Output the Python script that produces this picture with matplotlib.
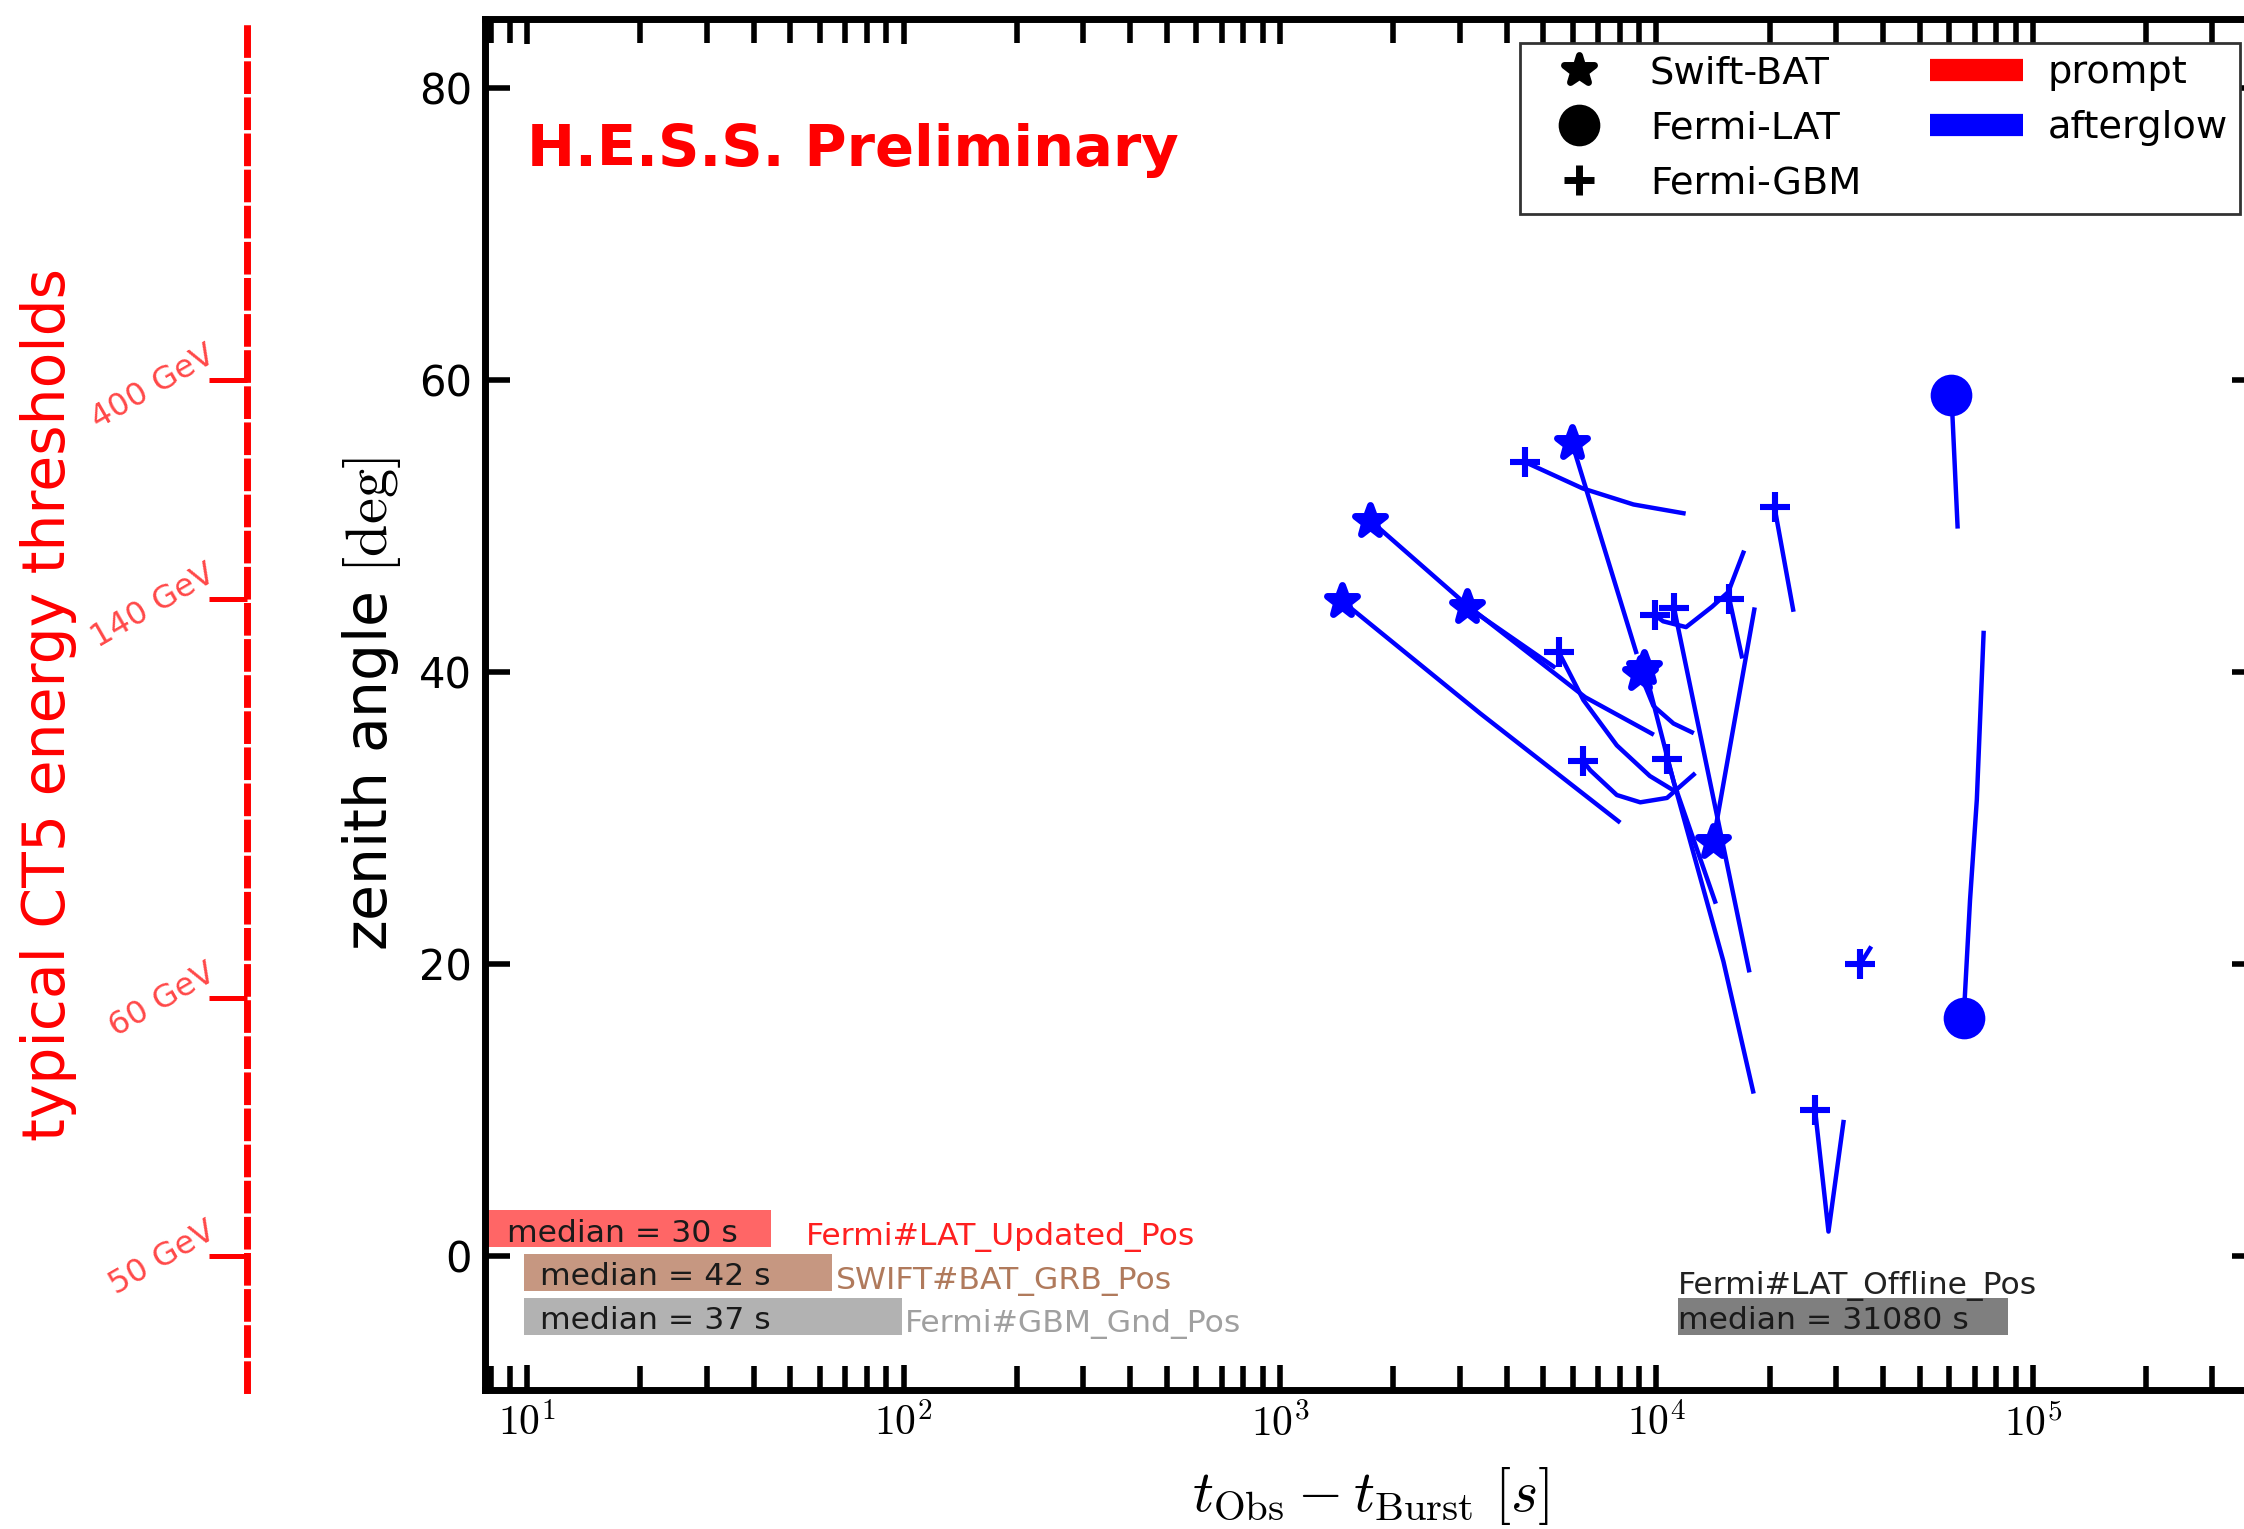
import numpy as np
import matplotlib
matplotlib.use('Agg')
import matplotlib.pyplot as plt
from matplotlib.lines import Line2D
from matplotlib.markers import MarkerStyle
from matplotlib.ticker import FuncFormatter, LogLocator, NullFormatter

plt.rcParams['mathtext.fontset'] = 'cm'
plt.rcParams['font.family'] = 'DejaVu Sans'

# afterglow tracks, t_obs - t_burst [s] and zenith angle [deg]; marker at first point
bat_t = [[1460, 3400, 7930],
         [1738, 3140, 6470, 9730],
         [3140, 5330],
         [5970, 8830],
         [9060, 9820, 11100, 12420],
         [9290, 11140, 14320],
         [14150, 18200]]
bat_zen = [[44.9, 37.2, 29.8],
           [50.4, 44.6, 38.3, 35.8],
           [44.5, 40.4],
           [55.7, 41.4],
           [39.9, 37.7, 36.5, 35.9],
           [40.3, 32.4, 24.3],
           [28.4, 44.3]]

gbm_t = [[5500, 6400, 7850, 9610, 11300],
         [6400, 6670, 7850, 9060, 10670, 12560],
         [4480, 6370, 8690, 11800],
         [9930, 10420, 11990, 14060, 15520, 17020],
         [11140, 17620],
         [15630, 16860],
         [10690, 15070, 18070],
         [20600, 23080],
         [26400, 28650, 31400],
         [34760, 36950]]
gbm_zen = [[41.4, 38.1, 35.0, 32.9, 31.8],
           [33.9, 33.3, 31.6, 31.1, 31.4, 33.0],
           [54.4, 52.6, 51.5, 50.9],
           [43.9, 43.5, 43.1, 44.5, 45.5, 48.2],
           [44.4, 19.6],
           [45.0, 41.1],
           [34.1, 20.2, 11.3],
           [51.3, 44.3],
           [10.0, 1.7, 9.2],
           [20.0, 21.1]]

lat_t = [[60800, 63100],
         [65500, 68100, 71000, 74000]]
lat_zen = [[59.0, 50.0],
           [16.3, 24.4, 31.3, 42.7]]

# alert delay ranges [s] and medians
delay_names = ['Fermi#LAT_Updated_Pos', 'SWIFT#BAT_GRB_Pos', 'Fermi#GBM_Gnd_Pos', 'Fermi#LAT_Offline_Pos']
delay_lo = [7.0, 9.8, 9.8, 11430]
delay_hi = [44.5, 64.6, 99.0, 86000]
delay_median = [30, 42, 37, 31080]
delay_row = [1.9, -1.1, -4.1, -4.1]
delay_color = ['red', 'sienna', 'gray', '#7f7f7f']
delay_alpha = [0.6, 0.6, 0.6, 1.0]
name_x = [55, 66, 101, 11430]
name_y = [1.3, -1.7, -4.6, -2.0]
name_color = ['#ff2020', '#b07a5c', '#a0a0a0', '#222222']
median_x = [8.85, 10.8, 10.8, 11430]

# CT5 thresholds vs zenith angle
thr_zen = [0, 17.7, 45, 60]
thr_label = ['50 GeV', '60 GeV', '140 GeV', '400 GeV']

star = MarkerStyle('*', joinstyle='round')

fig = plt.figure(figsize=(11.22, 7.645), dpi=200)
ax = fig.add_axes([485/2244, 139/1529, 1772/2244, 1371/1529])
ax2 = ax.twinx()

for tt, zz in zip(bat_t, bat_zen):
    ax.plot(tt, zz, color='blue', lw=1.6, zorder=3)
    ax.plot(tt[0], zz[0], marker=star, color='blue', ms=11.5, mew=2.5, zorder=4)
for tt, zz in zip(gbm_t, gbm_zen):
    ax.plot(tt, zz, color='blue', lw=1.6, zorder=3)
    ax.plot(tt[0], zz[0], marker='+', color='blue', ms=11, mew=2.2, zorder=4)
for tt, zz in zip(lat_t, lat_zen):
    ax.plot(tt, zz, color='blue', lw=1.6, zorder=3)
    ax.plot(tt[0], zz[0], marker='o', color='blue', ms=14, zorder=4)

for i in range(len(delay_names)):
    ax.barh(delay_row[i], delay_hi[i] - delay_lo[i], left=delay_lo[i], height=2.5,
            color=delay_color[i], alpha=delay_alpha[i], lw=0, zorder=2)
    ax.text(median_x[i], delay_row[i] - 0.3, 'median = %d s' % delay_median[i],
            fontsize=11.3, color='#1a1a1a', va='center', ha='left', zorder=5)
    ax.text(name_x[i], name_y[i], delay_names[i], fontsize=11.3,
            color=name_color[i], va='center', ha='left', zorder=5)

ax.text(10, 74.7, 'H.E.S.S. Preliminary', color='red', fontsize=20.7,
        fontweight='bold', va='baseline', ha='left')

ax.set_xscale('log')
ax.set_xlim(7.73, 3.94e5)
ax.set_ylim(-9.15, 84.75)
ax.set_yticks([0, 20, 40, 60, 80])
ax.xaxis.set_major_locator(LogLocator(base=10))
ax.xaxis.set_minor_locator(LogLocator(base=10, subs=np.arange(2, 10)))
ax.xaxis.set_major_formatter(FuncFormatter(lambda v, p: r'$10^{%d}$' % round(np.log10(v))))
ax.xaxis.set_minor_formatter(NullFormatter())
ax.tick_params(which='both', direction='in', top=True, right=True, width=2)
ax.tick_params(which='major', length=9, labelsize=15, pad=4.7)
ax.tick_params(which='minor', length=8.5)
for s in ax.spines.values():
    s.set_linewidth(2.5)

ax.set_xlabel(r'$t_{\rm Obs} - t_{\rm Burst}\ [s]$', fontsize=21)
ax.xaxis.set_label_coords(0.5, -0.055)
ax.set_ylabel(r'zenith angle $[\mathrm{deg}]$', fontsize=21)
ax.yaxis.set_label_coords(-0.046, 0.5)

# energy threshold scale on a detached left spine
spine_x = (246.5 - 485) / 1772
ax2.set_ylim(ax.get_ylim())
ax2.yaxis.tick_left()
ax2.yaxis.set_label_position('left')
ax2.spines['left'].set_position(('axes', spine_x))
ax2.spines['left'].set_color('red')
ax2.spines['left'].set_linestyle((0, (3.7, 1.5)))
ax2.spines['left'].set_linewidth(2.5)
for side in ['right', 'top', 'bottom']:
    ax2.spines[side].set_visible(False)
ax2.set_yticks(thr_zen)
ax2.set_yticklabels([])
ax2.tick_params(axis='y', direction='out', length=13.7, width=1.8, color='red')
for z, lab in zip(thr_zen, thr_label):
    ax2.annotate(lab, xy=(spine_x, z), xycoords=ax2.get_yaxis_transform(),
                 xytext=(-10.5, 7.2), textcoords='offset points', rotation=30,
                 rotation_mode='anchor', ha='right', va='baseline',
                 color='#ff4848', fontsize=11.5, annotation_clip=False)
ax2.set_ylabel('typical CT5 energy thresholds', color='red', fontsize=21)
ax2.yaxis.set_label_coords((77 - 485) / 1772, 0.5)

handles = [Line2D([], [], marker=star, color='k', ls='none', ms=11, mew=2.5),
           Line2D([], [], marker='o', color='k', ls='none', ms=14),
           Line2D([], [], marker='+', color='k', ls='none', ms=11, mew=2.5),
           Line2D([], [], color='red', lw=8, solid_capstyle='butt'),
           Line2D([], [], color='blue', lw=8, solid_capstyle='butt')]
labels = ['Swift-BAT', 'Fermi-LAT', 'Fermi-GBM', 'prompt', 'afterglow']
leg = ax.legend(handles, labels, ncol=2, loc='upper right', fontsize=13.8,
                bbox_to_anchor=((2240 - 485) / 1772, (1390 - 43) / 1371),
                borderaxespad=0, fancybox=False, framealpha=1,
                handlelength=2.43, handletextpad=0.63, columnspacing=1.8,
                labelspacing=0.5, borderpad=0.32)
leg.get_frame().set_edgecolor('0.2')
leg.get_frame().set_linewidth(1.0)
leg.set_zorder(10)

fig.savefig('out.png', dpi=200)
